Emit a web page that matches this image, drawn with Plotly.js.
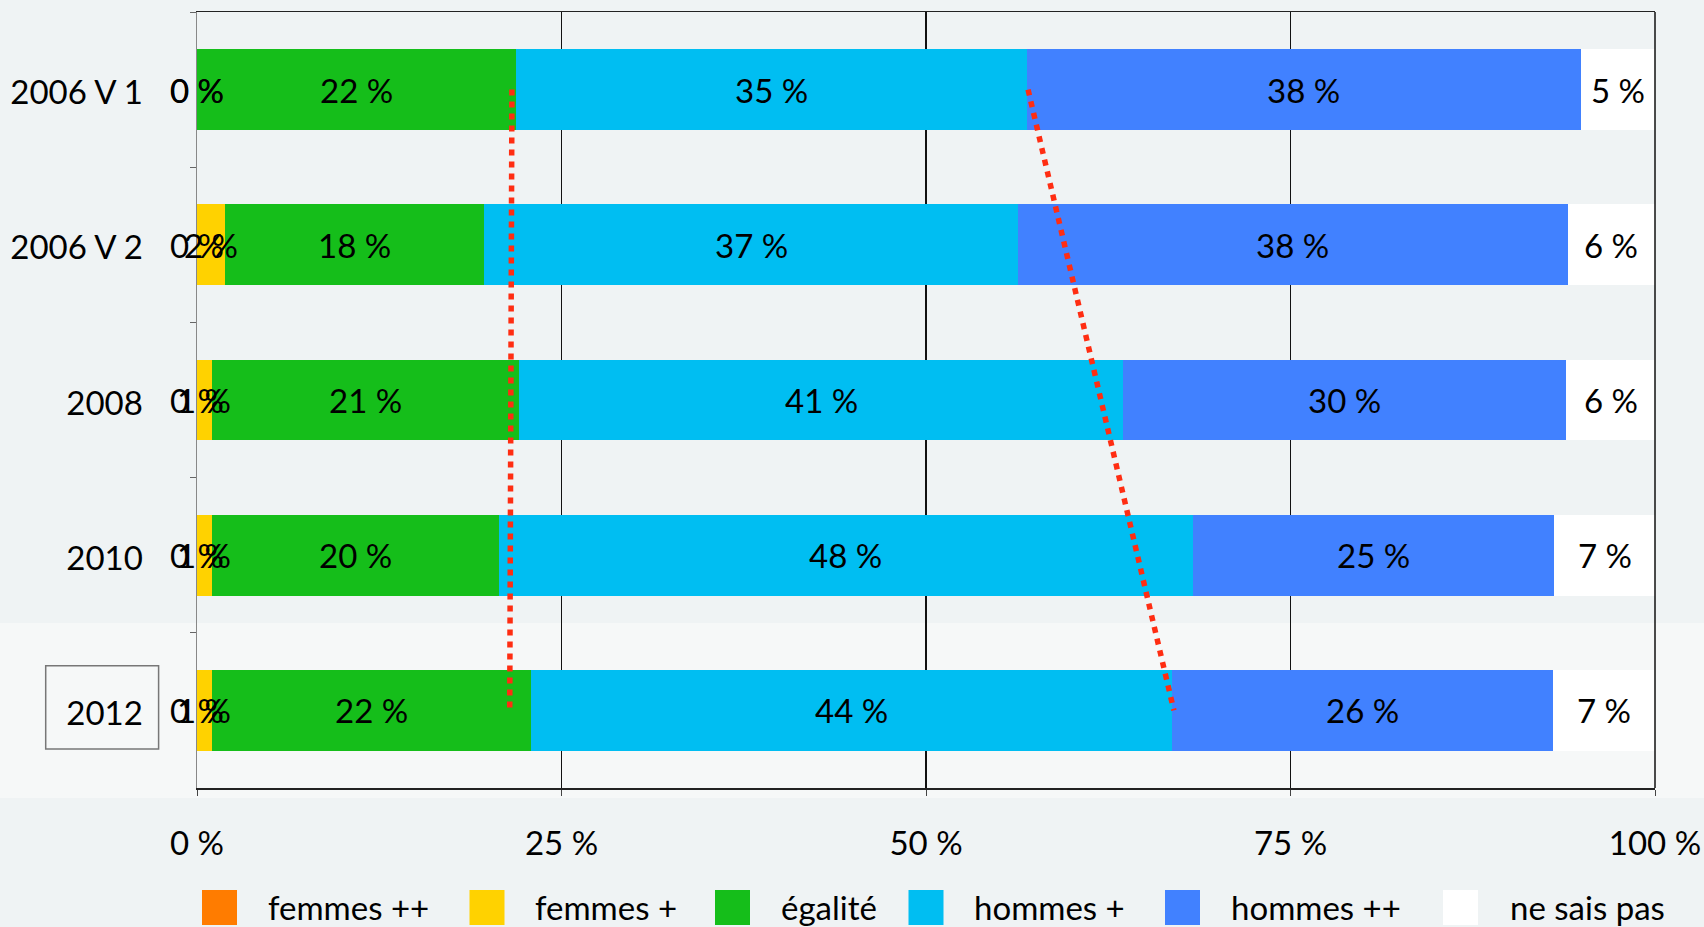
<!DOCTYPE html>
<html>
<head>
<meta charset="utf-8">
<script src="https://cdn.plot.ly/plotly-3.0.1.min.js"></script>
<style>
html,body{margin:0;padding:0;background:#eff3f4;}
#chart{width:1704px;height:927px;}
</style>
</head>
<body>
<div id="chart"></div>
<script>
// ---------- data ----------
const categories = ['2006 V 1', '2006 V 2', '2008', '2010', '2012'];
const seriesNames = ['femmes ++', 'femmes +', 'égalité', 'hommes +', 'hommes ++', 'ne sais pas'];
const femmesPlusPlus = [0, 0, 0, 0, 0];
const femmesPlus     = [0, 1.9, 1.0, 1.0, 1.0];
const egalite        = [21.9, 17.8, 21.1, 19.7, 21.9];
const hommesPlus     = [35.0, 36.6, 41.4, 47.6, 44.0];
const hommesPlusPlus = [38.0, 37.7, 30.4, 24.8, 26.1];
const neSaisPas      = [5.1, 6.0, 6.1, 6.9, 7.0];
// red dotted trend lines drawn from "2006 V 1" to "2012"
const trendEgalite = [21.6, 21.45];
const trendHommes  = [57.0, 67.0];
const xTickVals = [0, 25, 50, 75, 100];
const xTickText = ['0 %', '25 %', '50 %', '75 %', '100 %'];

// ---------- styles ----------
const seriesColors = ['#ff7c00', '#ffd200', '#15be1a', '#00bef2', '#4181ff', '#ffffff'];
const FONT = 'Lato, "Open Sans", sans-serif';
const FS = 33;

const series = [femmesPlusPlus, femmesPlus, egalite, hommesPlus, hommesPlusPlus, neSaisPas];

const W = 1704, H = 927;
const M = {l: 197, r: 49, t: 12, b: 139};
const PW = W - M.l - M.r, PH = H - M.t - M.b;
const px2x = p => (p - M.l) / PW;
const px2y = p => (H - M.b - p) / PH;

const traces = [];
// stacked bars
series.forEach((vals, i) => {
  traces.push({
    type: 'bar', orientation: 'h', name: seriesNames[i],
    x: vals, y: categories,
    marker: {color: seriesColors[i], line: {width: 0}},
    hoverinfo: 'skip'
  });
});
// red dotted lines
[trendEgalite, trendHommes].forEach(xs => {
  traces.push({
    type: 'scatter', mode: 'lines',
    x: xs, y: [categories[0], categories[categories.length - 1]],
    line: {color: '#ff2d12', width: 5.5, dash: '6px,6px'},
    hoverinfo: 'skip'
  });
});

const annotations = [];
// value labels at segment centres (y given as category serial number)
const cum = categories.map(() => 0);
series.forEach((vals, i) => {
  vals.forEach((v, j) => {
    annotations.push({
      xref: 'x', yref: 'y', x: cum[j] + v / 2, y: j,
      text: Math.round(v) + ' %', showarrow: false,
      xanchor: 'center', yanchor: 'middle', yshift: 0,
      font: {family: FONT, size: FS, color: '#000'}
    });
    cum[j] += v;
  });
});

// ---------- custom legend ----------
const legSqX = [202, 469.5, 715, 908.5, 1165, 1443];
const legTxtX = [266, 532.5, 779, 971.5, 1229, 1508];
const shapes = [
  // lighter band at the bottom of the slide
  {type: 'rect', xref: 'paper', yref: 'paper', layer: 'below',
   x0: px2x(0), x1: px2x(W), y0: px2y(798), y1: px2y(623),
   fillcolor: '#f6f8f8', line: {width: 0}},
  // right border
  {type: 'line', xref: 'paper', yref: 'paper', x0: 1, x1: 1, y0: 0, y1: 1,
   line: {color: '#111', width: 1.5}},
  // box around 2012 label
  {type: 'rect', xref: 'paper', yref: 'paper',
   x0: px2x(45.7), x1: px2x(158.6), y0: px2y(749), y1: px2y(665.7),
   fillcolor: 'rgba(0,0,0,0)', line: {color: '#777', width: 1.5}}
];
seriesNames.forEach((nm, i) => {
  shapes.push({type: 'rect', xref: 'paper', yref: 'paper',
    x0: px2x(legSqX[i]), x1: px2x(legSqX[i] + 35),
    y0: px2y(925), y1: px2y(890),
    fillcolor: seriesColors[i], line: {width: 0}});
  annotations.push({xref: 'paper', yref: 'paper',
    x: px2x(legTxtX[i]), y: px2y(907), xanchor: 'left', yanchor: 'middle',
    text: nm, showarrow: false,
    font: {family: FONT, size: FS, color: '#000'}});
});

const layout = {
  width: W, height: H,
  margin: M,
  paper_bgcolor: '#eff3f4',
  plot_bgcolor: 'rgba(0,0,0,0)',
  barmode: 'stack', bargap: 0.48,
  showlegend: false,
  font: {family: FONT, size: FS, color: '#000'},
  xaxis: {
    range: [0, 100], tickmode: 'array', tickvals: xTickVals, ticktext: xTickText,
    showgrid: true, gridcolor: '#111', gridwidth: 1.5, zeroline: false,
    showline: true, linecolor: '#222', linewidth: 1.5, mirror: true,
    ticks: 'outside', ticklen: 6, tickcolor: '#444', tickwidth: 1,
    ticklabelstandoff: 20, fixedrange: true
  },
  yaxis: {
    type: 'category', categoryorder: 'array', categoryarray: categories,
    autorange: 'reversed',
    showline: true, linecolor: '#888', linewidth: 1.5,
    ticks: 'outside', tickson: 'boundaries', ticklen: 6, tickcolor: '#666',
    ticklabelstandoff: 46, ticklabelshift: -3,
    showgrid: false, zeroline: false, fixedrange: true
  },
  shapes: shapes,
  annotations: annotations
};

Plotly.newPlot('chart', traces, layout, {displayModeBar: false, staticPlot: true});
</script>
</body>
</html>
